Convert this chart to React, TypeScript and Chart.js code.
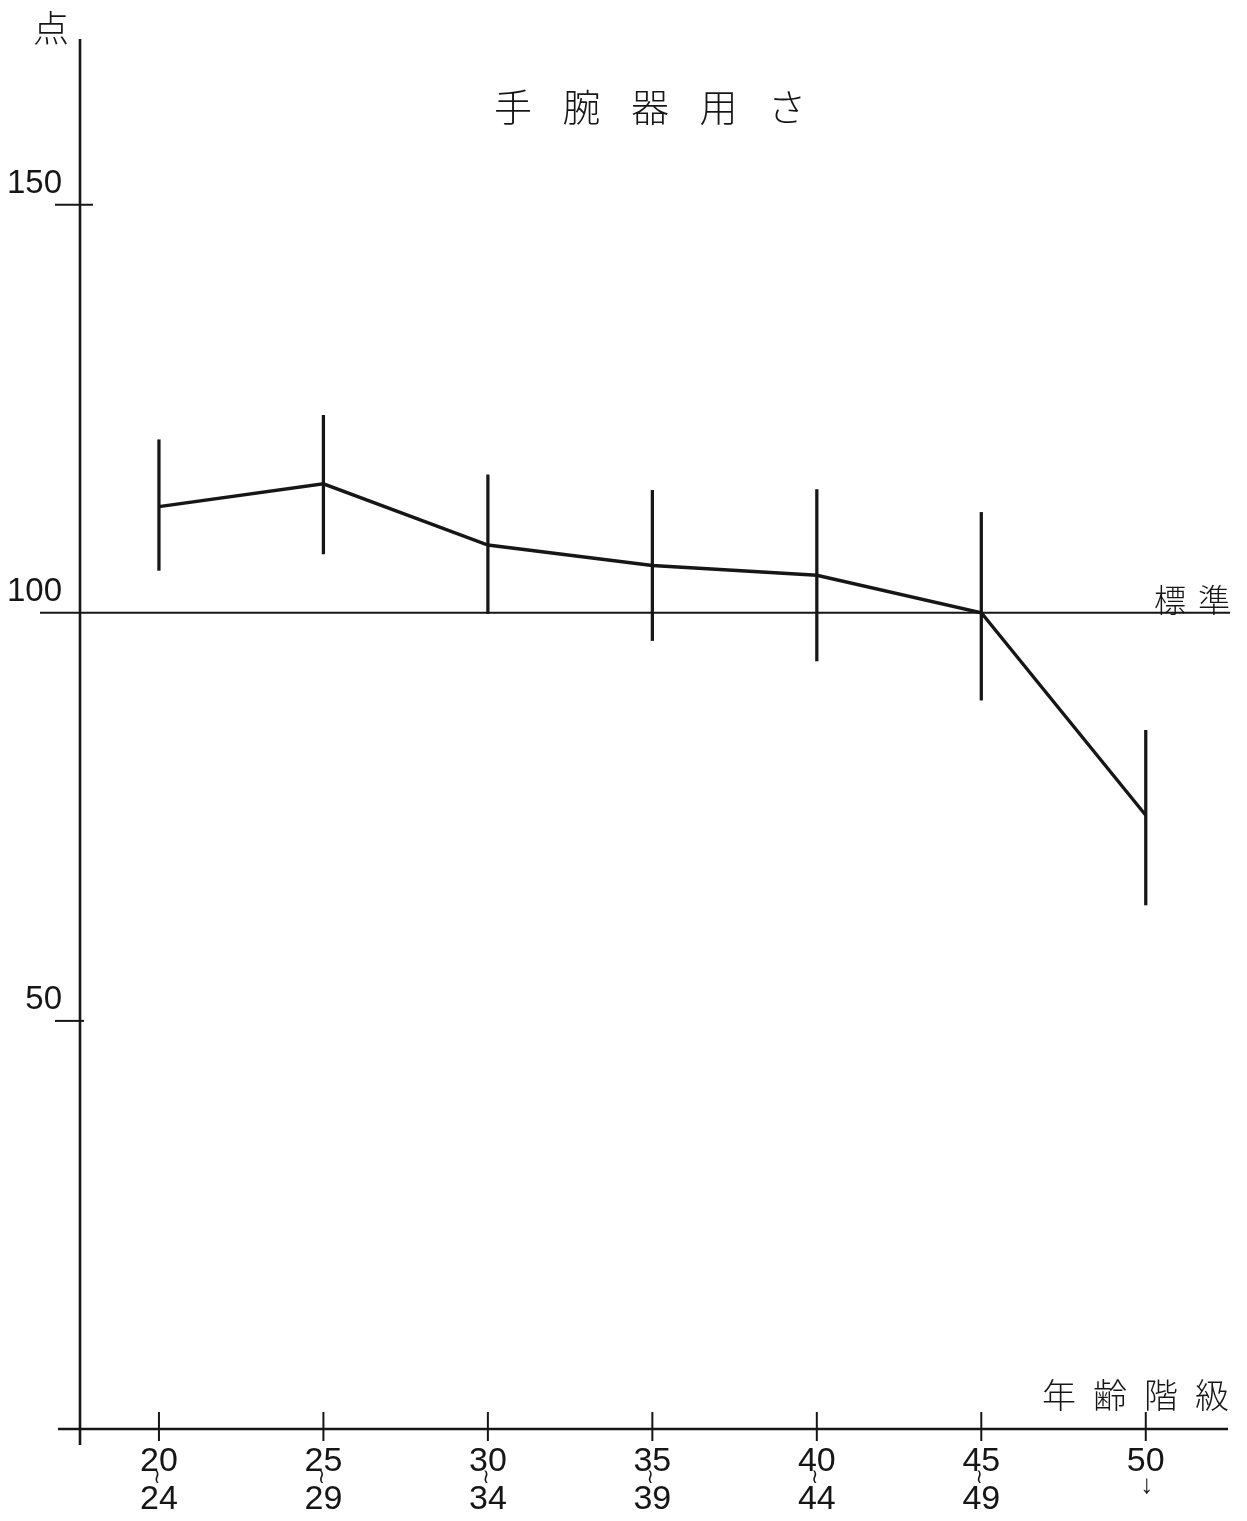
import React, { useEffect, useRef } from 'react';
import { Chart, registerables } from 'chart.js';

Chart.register(...registerables);

// ---- data ----
const AGE_START = ['20', '25', '30', '35', '40', '45', '50'];
const AGE_END = ['24', '29', '34', '39', '44', '49', ''];
const RANGE_MARK = ['≀', '≀', '≀', '≀', '≀', '≀', '↓'];
const CATEGORY_INDEX = [0, 1, 2, 3, 4, 5, 6];
const MEAN = [113.0, 115.8, 108.3, 105.8, 104.6, 100.0, 75.2];
const UPPER = [121.2, 124.2, 116.9, 115.0, 115.1, 112.3, 85.6];
const LOWER = [105.2, 107.2, 99.9, 96.6, 94.1, 89.3, 64.2];
const Y_TICKS = [50, 100, 150];
const STANDARD = 100;
const TITLE_CHARS = ['手', '腕', '器', '用', 'さ'];
const Y_LABEL = '点';
const X_LABEL_CHARS = ['年', '齢', '階', '級'];
const STANDARD_LABEL = '標準';

const W = 1247;
const H = 1521;
const INK = '#161616';
const CJK = '"Noto Sans CJK JP", "Noto Sans CJK SC", sans-serif';
const NUM = '"Liberation Sans", Arial, sans-serif';

const decor = {
  id: 'decor',
  beforeDatasetsDraw(chart: any) {
    const { ctx, chartArea, scales } = chart;
    const { left, right, top, bottom } = chartArea;
    const x = scales.x;
    const y = scales.y;
    const line = (x1: number, y1: number, x2: number, y2: number) => {
      ctx.beginPath();
      ctx.moveTo(x1, y1);
      ctx.lineTo(x2, y2);
      ctx.stroke();
    };
    ctx.save();
    ctx.strokeStyle = INK;
    ctx.lineCap = 'butt';
    // axes
    ctx.lineWidth = 2.6;
    line(left, top, left, bottom + 16);
    line(left - 22, bottom, right, bottom);
    // y ticks
    ctx.lineWidth = 2;
    Y_TICKS.forEach((v) => {
      if (v === STANDARD) return;
      const py = y.getPixelForValue(v);
      line(left - 25, py, left + (v === 150 ? 13 : 4), py);
    });
    // standard line
    const sy = y.getPixelForValue(STANDARD);
    ctx.lineWidth = 2;
    line(left - 40, sy, right + 2, sy);
    // x ticks
    x.ticks.forEach((t: any) => {
      const px = x.getPixelForValue(t.value);
      line(px, bottom - 17, px, bottom + 12);
    });
    ctx.restore();
  },
  afterDraw(chart: any) {
    const { ctx, chartArea, scales } = chart;
    const { left, right, bottom } = chartArea;
    const x = scales.x;
    const y = scales.y;
    ctx.save();
    ctx.fillStyle = INK;
    ctx.textAlign = 'center';
    ctx.textBaseline = 'middle';
    // title
    ctx.font = `300 38px ${CJK}`;
    const cx = (left + right) / 2 - 4;
    TITLE_CHARS.forEach((c, i) => {
      ctx.fillText(c, cx + (i - 2) * 68.5, 107);
    });
    // y label
    ctx.font = `300 36px ${CJK}`;
    ctx.fillText(Y_LABEL, left - 29, 28);
    // standard label
    ctx.font = `300 32px ${CJK}`;
    const sy = y.getPixelForValue(STANDARD);
    ctx.fillText(STANDARD_LABEL.charAt(0), right - 58, sy - 13);
    ctx.fillText(STANDARD_LABEL.charAt(1), right - 14, sy - 13);
    // x label
    ctx.font = `300 34px ${CJK}`;
    X_LABEL_CHARS.forEach((c, i) => {
      ctx.fillText(c, right - 16 - (X_LABEL_CHARS.length - 1 - i) * 51, bottom - 34);
    });
    // range marks between age bounds
    CATEGORY_INDEX.forEach((c, i) => {
      const px = x.getPixelForValue(c);
      const mark = RANGE_MARK[i];
      if (mark === '↓') {
        ctx.font = `26px ${NUM}`;
        ctx.fillText(mark, px + 1, bottom + 57);
      } else {
        ctx.font = `20px "DejaVu Sans", sans-serif`;
        ctx.fillText(mark, px - 2, bottom + 49);
      }
    });
    ctx.restore();
  },
};

export default function App() {
  const ref = useRef<HTMLCanvasElement>(null);
  useEffect(() => {
    if (!ref.current) return;
    const chart = new Chart(ref.current, {
      type: 'line',
      data: {
        datasets: [
          {
            type: 'line',
            label: '平均',
            data: CATEGORY_INDEX.map((c, i) => ({ x: c, y: MEAN[i] })),
            borderColor: INK,
            borderWidth: 3.4,
            pointRadius: 0,
            tension: 0,
            fill: false,
          } as any,
          {
            type: 'bar',
            label: '範囲',
            data: CATEGORY_INDEX.map((c, i) => ({ x: c, y: [LOWER[i], UPPER[i]] })),
            backgroundColor: INK,
            borderWidth: 0,
            barThickness: 2.6,
            grouped: false,
          } as any,
        ],
      },
      options: {
        responsive: false,
        devicePixelRatio: 1,
        animation: false,
        layout: { padding: { top: 39, right: 19, left: 0, bottom: 0 } },
        plugins: {
          legend: { display: false },
          tooltip: { enabled: false },
          title: { display: false },
        },
        scales: {
          x: {
            type: 'linear',
            min: -0.48,
            max: 6.5,
            offset: false,
            grid: { display: false },
            border: { display: false },
            afterBuildTicks: (s: any) => {
              s.ticks = CATEGORY_INDEX.map((v) => ({ value: v }));
            },
            afterFit: (s: any) => {
              s.height = 92;
            },
            ticks: {
              autoSkip: false,
              maxRotation: 0,
              minRotation: 0,
              padding: 15,
              color: INK,
              font: { family: NUM, size: 34, lineHeight: '19px' },
              callback: (_v: any, i: number) => [AGE_START[i], '', AGE_END[i]],
            },
          },
          y: {
            type: 'linear',
            min: 0,
            max: 170.3,
            grid: { display: false },
            border: { display: false },
            afterBuildTicks: (s: any) => {
              s.ticks = Y_TICKS.map((v) => ({ value: v }));
            },
            afterFit: (s: any) => {
              s.width = 80;
            },
            ticks: {
              padding: 10,
              labelOffset: -21,
              color: INK,
              font: { family: NUM, size: 33 },
              callback: (v: any) => String(v),
            },
          },
        },
      } as any,
      plugins: [decor],
    });
    return () => chart.destroy();
  }, []);
  return (
    <div style={{ position: 'absolute', left: 0, top: 0, width: W, height: H, background: '#fff' }}>
      <canvas ref={ref} width={W} height={H} style={{ display: 'block', width: W, height: H }} />
    </div>
  );
}
